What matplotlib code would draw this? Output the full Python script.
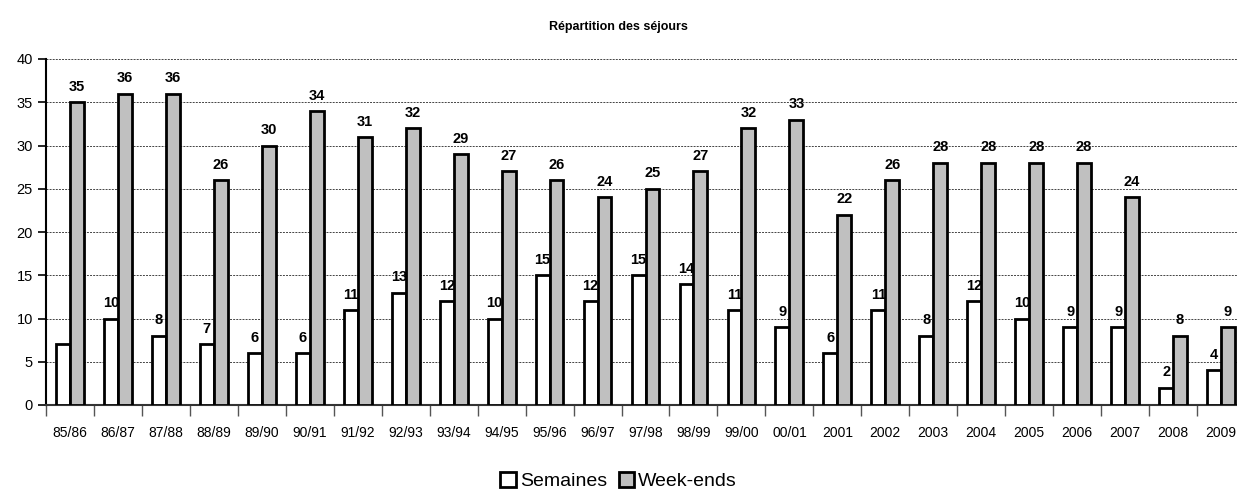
import matplotlib.pyplot as plt
import numpy as np

plt.rcParams['font.family'] = ['Liberation Sans', 'DejaVu Sans']

saisons = ["85/86", "86/87", "87/88", "88/89", "89/90", "90/91", "91/92", "92/93",
           "93/94", "94/95", "95/96", "96/97", "97/98", "98/99", "99/00", "00/01",
           "2001", "2002", "2003", "2004", "2005", "2006", "2007", "2008", "2009"]
semaines = [7, 10, 8, 7, 6, 6, 11, 13, 12, 10, 15, 12, 15, 14, 11, 9,
            6, 11, 8, 12, 10, 9, 9, 2, 4]
week_ends = [35, 36, 36, 26, 30, 34, 31, 32, 29, 27, 26, 24, 25, 27, 32, 33,
             22, 26, 28, 28, 28, 28, 24, 8, 9]

fig = plt.figure(figsize=(12.37, 4.93), dpi=100)
ax = fig.add_axes([46 / 1237, 88 / 493, 1199 / 1237, 346 / 493])

x = np.arange(len(saisons))
w = 0.29
b1 = ax.bar(x - w / 2, semaines, w, color="white", edgecolor="black",
            linewidth=2.0, label="Semaines", zorder=3)
b2 = ax.bar(x + w / 2, week_ends, w, color="#c0c0c0", edgecolor="black",
            linewidth=2.0, label="Week-ends", zorder=3)

# labels semaines (derriere les barres grises), le premier n'est pas affiche
for i, v in enumerate(semaines):
    if i == 0:
        continue
    ax.annotate(str(v), (x[i] - w / 2, v), xytext=(0, 6), textcoords="offset points",
                ha="center", va="bottom", fontsize=10.5, fontweight="bold", zorder=2)
for i, v in enumerate(week_ends):
    ax.annotate(str(v), (x[i] + w / 2, v), xytext=(0, 6), textcoords="offset points",
                ha="center", va="bottom", fontsize=10.5, fontweight="bold", zorder=4)

ax.set_xlim(-0.5, len(saisons) - 0.5)
ax.set_ylim(0, 40)
ax.set_yticks(range(0, 41, 5))
ax.set_xticks(x)
ax.set_xticklabels(saisons)
ax.set_xticks(np.arange(-0.5, len(saisons), 1), minor=True)
ax.tick_params(axis="x", which="major", length=0, pad=15, labelsize=10)
ax.tick_params(axis="x", which="minor", length=8, width=1, color="#555555")
ax.tick_params(axis="y", length=6, width=1.2, labelsize=10.5)

ax.yaxis.grid(True, linestyle=(0, (2, 1.2)), color="#444444", linewidth=0.7, zorder=0)
ax.set_axisbelow(True)
ax.spines["top"].set_visible(False)
ax.spines["right"].set_visible(False)
ax.spines["left"].set_linewidth(1.5)
ax.spines["bottom"].set_linewidth(1.5)
ax.spines["bottom"].set_color("#333333")

fig.text(0.5, 0.945, "Répartition des séjours", ha="center", va="center",
         fontsize=9, fontweight="bold")

leg = fig.legend(handles=[b1, b2], loc="lower center", bbox_to_anchor=(0.5, -0.03),
                 ncol=2, frameon=False, fontsize=14, handlelength=0.8,
                 handleheight=0.8, handletextpad=0.2, columnspacing=0.6)

fig.savefig("out.png", dpi=100)
